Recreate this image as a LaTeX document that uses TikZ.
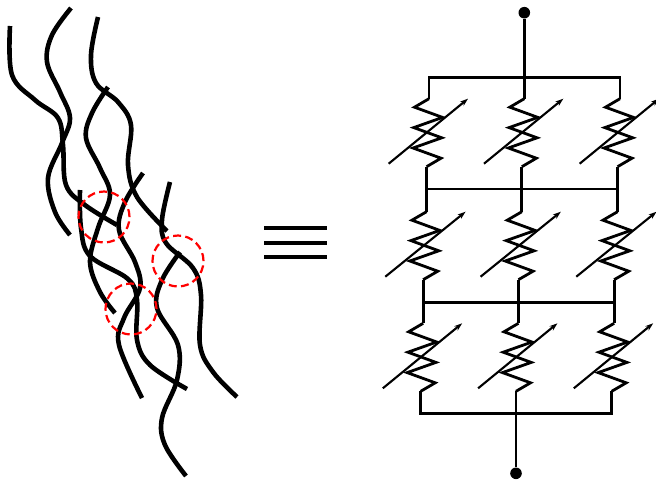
\documentclass[tikz,border=0pt]{standalone}
\usetikzlibrary{arrows.meta}

% variable resistor: zigzag body hanging from the top lead end #1,
% drifting left by the slant #2, with the adjustment arrow across it
\newcommand{\varres}[2]{%
  \begin{scope}[shift={(#1)}, xslant=#2]
    \draw[wire] (0,0) -- (-14.2,8.5) -- (14.2,18.7) -- (-14.2,28.9) -- (14.2,39.1)
      -- (-14.2,49.3) -- (14.2,59.5) -- (0,68);
    \draw[adjust] (-38,65) -- (39,0);
  \end{scope}}

\begin{document}
\begin{tikzpicture}[x=1pt, y=-1pt,
  fiber/.style={line width=4.6pt},
  joint/.style={draw=red, line width=2.2pt, dash pattern=on 8pt off 4.3pt},
  wire/.style={line width=2.8pt, line join=miter},
  adjust/.style={line width=2.1pt, -{Stealth[length=8pt, width=5.5pt]}},
  terminal/.style={circle, fill=black, inner sep=0pt, minimum size=11.6pt},
  equiv/.style={line width=4pt}]

\useasboundingbox (0,0) rectangle (656,483);

% ---------------- fibre network ----------------
\draw[fiber] plot[smooth, tension=0.6] coordinates {(10,26) (12,75) (35,100) (58,118) (63,145) (66,185) (85,205) (117,225)};
\draw[fiber] plot[smooth, tension=0.6] coordinates {(71,8) (52,35) (47,62) (60,92) (70,118) (62,143) (48,178) (55,212) (70,235)};
\draw[fiber] plot[smooth, tension=0.6] coordinates {(98,17) (91,55) (96,83) (118,102) (131,125) (128,165) (137,197) (167,231)};
\draw[fiber] plot[smooth, tension=0.6] coordinates {(108,87) (92,113) (86,138) (100,168) (110,195) (98,228) (90,262) (100,292) (115,313)};
\draw[fiber] plot[smooth, tension=0.6] coordinates {(143,173) (125,202) (119,230) (135,262) (140,288) (124,318) (119,345) (142,398)};
\draw[fiber] plot[smooth, tension=0.6] coordinates {(80,190) (81,228) (90,256) (128,279) (137,300) (137,340) (150,365) (187,389)};
\draw[fiber] plot[smooth, tension=0.6] coordinates {(170,182) (162,220) (166,243) (193,268) (201,295) (200,345) (213,372) (237,397)};
\draw[fiber] plot[smooth, tension=0.6] coordinates {(180,252) (162,280) (157,308) (178,345) (177,380) (162,418) (165,445) (186,476)};

% contact points between fibres
\draw[joint] (104,217) circle[radius=25.5pt];
\draw[joint] (178,261) circle[radius=25.5pt];
\draw[joint] (131,309) circle[radius=25.5pt];

% ---------------- equivalence sign ----------------
\draw[equiv] (264.3,228.3) -- (326.7,228.3);
\draw[equiv] (264.3,242.7) -- (326.7,242.7);
\draw[equiv] (264.3,257.3) -- (326.7,257.3);

% ---------------- resistor network ----------------
\coordinate (bar0) at (0,77.3);
\coordinate (bar1) at (0,189);
\coordinate (bar2) at (0,302.3);
\coordinate (bar3) at (0,413.3);

\coordinate (r11t) at (429,98.7);    \coordinate (r11b) at (426.55,166.7);
\coordinate (r12t) at (524.3,98.7);  \coordinate (r12b) at (521.85,166.7);
\coordinate (r13t) at (620,98.7);    \coordinate (r13b) at (617.55,166.7);
\coordinate (r21t) at (426.55,211.7); \coordinate (r21b) at (423.15,279.7);
\coordinate (r22t) at (521.85,211.7); \coordinate (r22b) at (518.45,279.7);
\coordinate (r23t) at (617.55,211.7); \coordinate (r23b) at (614.15,279.7);
\coordinate (r31t) at (423.15,323.3); \coordinate (r31b) at (420.7,391.3);
\coordinate (r32t) at (518.45,323.3); \coordinate (r32b) at (516,391.3);
\coordinate (r33t) at (614.15,323.3); \coordinate (r33b) at (611.7,391.3);

\node[terminal] (vin) at (524.3,12.7) {};
\node[terminal] (vout) at (516,473.3) {};

\varres{r11t}{0.036} \varres{r12t}{0.036} \varres{r13t}{0.036}
\varres{r21t}{0.05}  \varres{r22t}{0.05}  \varres{r23t}{0.05}
\varres{r31t}{0.036} \varres{r32t}{0.036} \varres{r33t}{0.036}

\draw[wire] (vin) -- (r12t);
\draw[wire] (r11t) -- (r11t |- bar0) -- (r13t |- bar0) -- (r13t);
\draw[wire] (r11b) -- (r21t) (r12b) -- (r22t) (r13b) -- (r23t);
\draw[wire] (r11b |- bar1) -- (r13b |- bar1);
\draw[wire] (r21b) -- (r31t) (r22b) -- (r32t) (r23b) -- (r33t);
\draw[wire] (r21b |- bar2) -- (r23b |- bar2);
\draw[wire] (r31b) -- (r31b |- bar3) -- (r33b |- bar3) -- (r33b);
\draw[wire] (r32b) -- (vout);

\end{tikzpicture}
\end{document}
